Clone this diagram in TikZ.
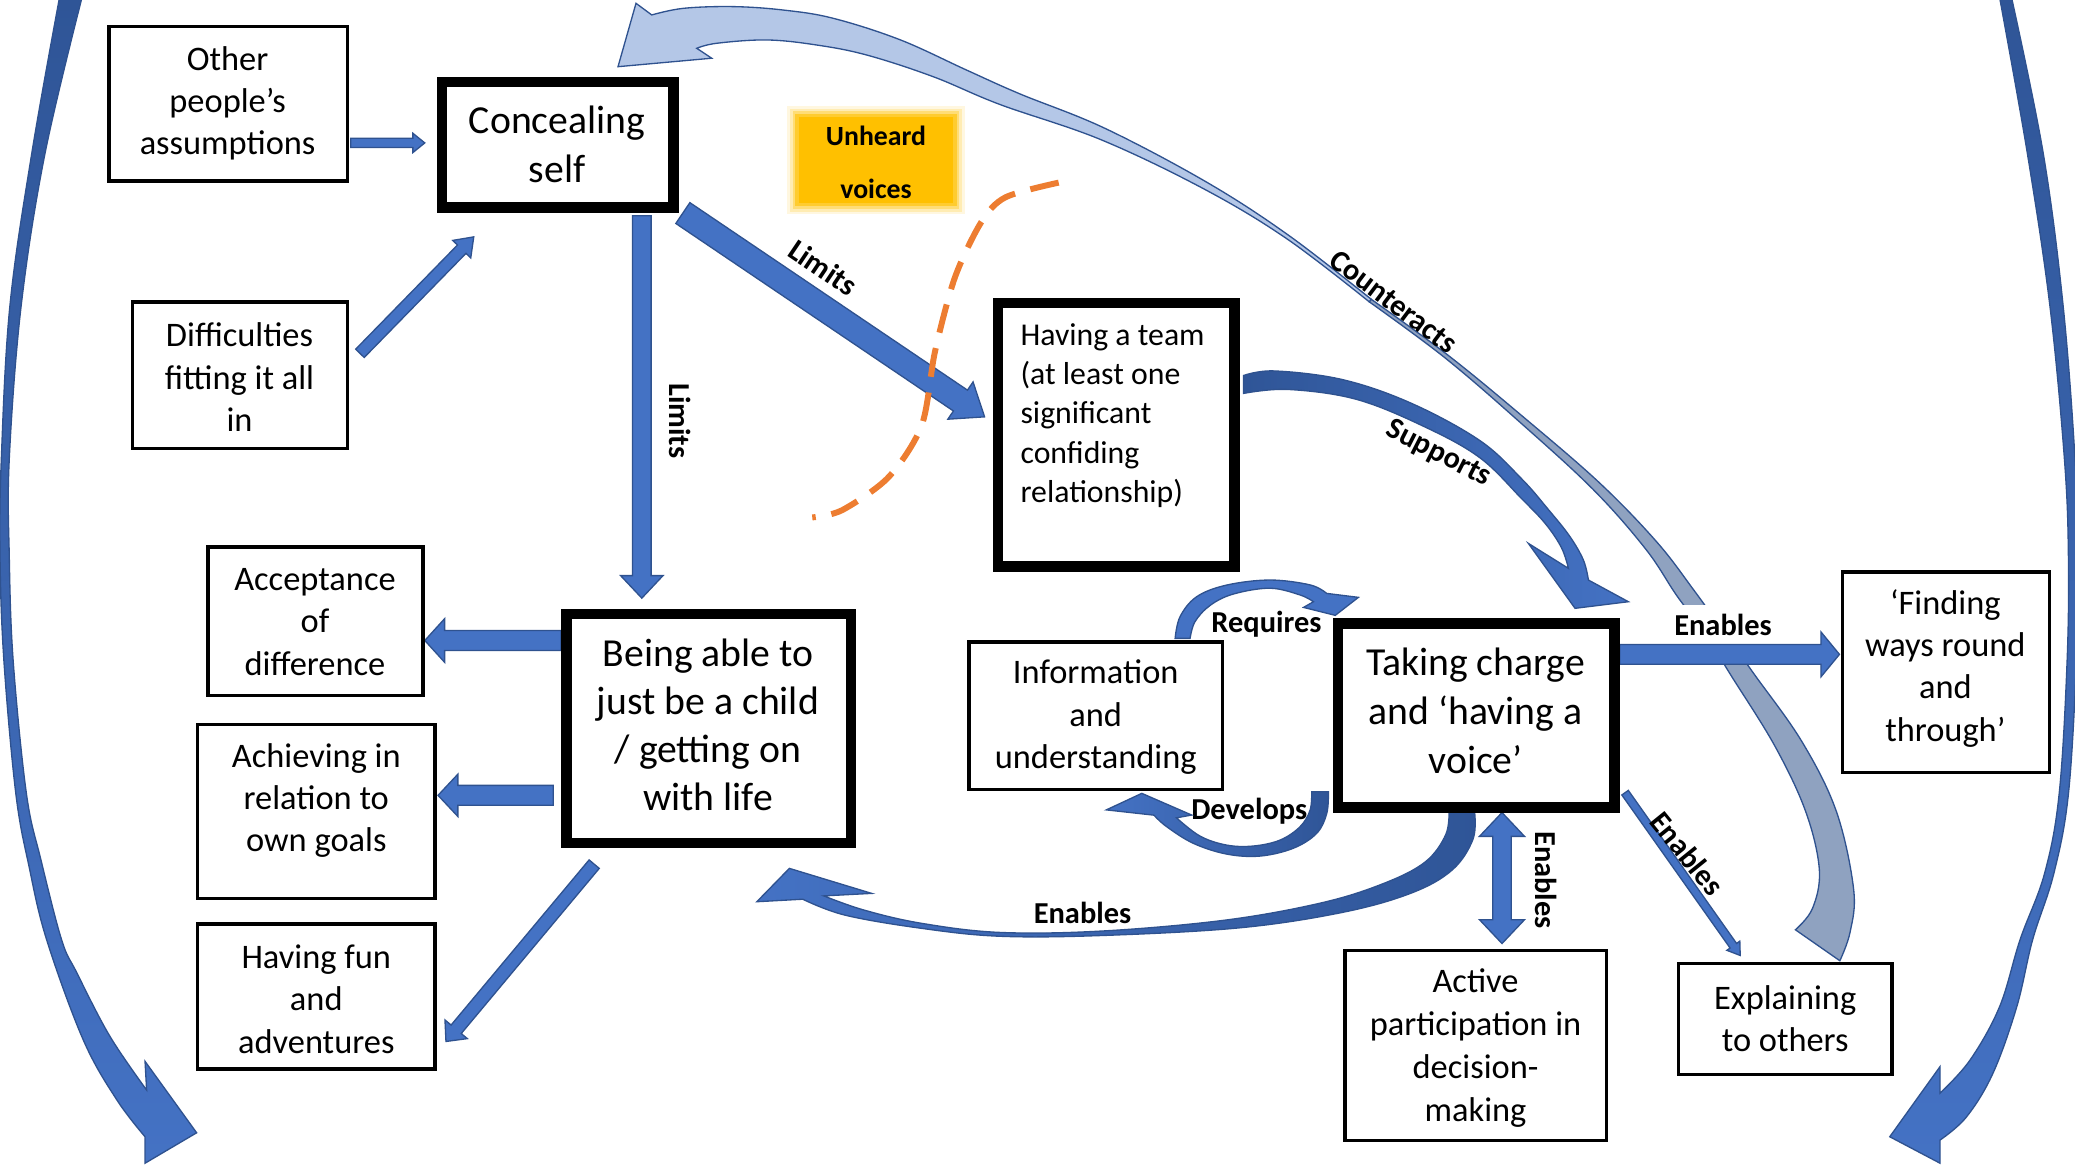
\documentclass[tikz,border=0pt]{standalone}
\usepackage{fontspec}
\setmainfont{Carlito}
\usetikzlibrary{calc}
\definecolor{abl}{HTML}{4472C4}
\definecolor{aol}{HTML}{2F528F}
\definecolor{adk}{HTML}{2F5597}
\definecolor{lbl}{HTML}{B4C7E7}
\definecolor{gbl}{HTML}{8FA2C0}
\definecolor{org}{HTML}{ED7D31}
\definecolor{ylw}{HTML}{FFC000}
\newcommand{\blockarr}[5]{%
  \coordinate (tmpH) at ($(#2)!#5!(#1)$);
  \draw[barrow] ($(#1)!#3!90:(#2)$) -- ($(tmpH)!#3!90:(#2)$) -- ($(tmpH)!#4!90:(#2)$) -- (#2) -- ($(tmpH)!#4!-90:(#2)$) -- ($(tmpH)!#3!-90:(#2)$) -- ($(#1)!#3!-90:(#2)$) -- cycle;}
\begin{document}
\begin{tikzpicture}[x=1pt,y=-1pt,
  tbox/.style={draw=black,line width=2.5pt,fill=white,inner sep=0pt},
  kbox/.style={draw=black,line width=8pt,fill=white,inner sep=0pt},
  btxt/.style={align=center,inner sep=0pt,font=\fontsize{26}{32}\selectfont},
  ktxt/.style={align=center,inner sep=0pt,font=\fontsize{30}{36.5}\selectfont},
  lab/.style={inner sep=1pt,font=\fontsize{23}{27}\selectfont\bfseries},
  barrow/.style={fill=abl,draw=aol,line width=1pt,line join=miter},
  carrow/.style={draw=aol,line width=1pt,line join=miter},
  glow/.style={fill=ylw,inner sep=0pt},
]
\useasboundingbox (0,0) rectangle (1568,882);
\clip (0,0) rectangle (1568,882);

% ---------- big side arcs ----------
\draw[carrow,top color=adk,bottom color=abl]
  plot[smooth,tension=0.6] coordinates {(45,-2) (24,116) (7.5,231) (1,347) (0,420) (3,500) (12,600) (22,655) (35.3,710.3) (63,786) (88.2,831) (109.6,859)}
  -- (109.6,879) -- (148.6,856) -- (109.6,802) -- (110.8,823.7)
  -- plot[smooth,tension=0.6] coordinates {(110.8,823.7) (83,783) (58,735) (46.6,710.3) (31,650) (20,600) (10,500) (7,420) (7,347) (16,231) (34,116) (62,-2)}
  -- cycle;
\draw[carrow,top color=adk,bottom color=abl]
  plot[smooth,tension=0.6] coordinates {(1511,-2) (1532,116) (1549,231) (1560,347) (1563,420) (1562,500) (1556,600) (1545,660) (1526.5,710) (1511,760.7) (1488.7,801) (1466,826)}
  -- (1466,806) -- (1428,859) -- (1466,879) -- (1466,861.5)
  -- plot[smooth,tension=0.6] coordinates {(1466,861.5) (1486,844) (1506,811) (1524,760.7) (1536,710) (1552,660) (1563,600) (1569,500) (1570,420) (1568,347) (1559,231) (1544,116) (1520,-2)}
  -- cycle;

% ---------- Counteracts ribbon ----------
\draw[carrow,fill=gbl]
  plot[smooth,tension=0.6] coordinates {(1036.1,226.1) (1093.4,267.8) (1151,315) (1208.7,364.9) (1252,409.6) (1280,446) (1303,478) (1325.6,509.5) (1361.8,560.7) (1387.7,613.3) (1400.7,671.9) (1398.1,704.1) (1390.3,726)}
  -- (1356.7,702.6)
  -- plot[smooth,tension=0.6] coordinates {(1356.7,702.6) (1369.6,686.5) (1374.8,657.2) (1364.5,613.3) (1341.1,563.6) (1307.5,509.5) (1288,478) (1267,450) (1243.8,415.2) (1204.1,370.1) (1147.8,318.4) (1091.4,270) (1034.7,228.1)}
  -- cycle;
\draw[carrow,fill=lbl]
  plot[smooth,tension=0.6] coordinates {(1036.1,226.1) (974,178) (912.4,138) (835,97) (770.8,71) (730.5,53) (680,30) (629.5,13.8) (592,7.6) (554,5) (516.4,6.3) (492.5,11.3)}
  -- (480.6,2.5) -- (467,50.4) -- (537.8,44) -- (526.5,36.5)
  -- plot[smooth,tension=0.6] coordinates {(526.5,36.5) (541.6,32.7) (579.4,30.2) (617,34) (655,41.6) (705.3,58) (755.7,79) (831.8,105.5) (909.8,142.8) (972.5,180.5) (1034.7,228.1)}
  -- cycle;

% ---------- Supports ----------
\draw[carrow,left color=adk,right color=abl]
  plot[smooth,tension=0.6] coordinates {(939.6,283.8) (962.9,280.3) (1014.7,286.9) (1066.6,304.8) (1118.4,333) (1150,362) (1170,385) (1186,405) (1196.5,423.2) (1200.3,438.3)}
  -- (1230.5,454.7) -- (1190.2,459.7) -- (1154.9,410.6) -- (1185.2,429.5)
  -- plot[smooth,tension=0.6] coordinates {(1185.2,429.5) (1180,414) (1168,396) (1150,377) (1118.4,346) (1076.9,322.7) (1025.1,301.8) (973.3,294.3) (939.6,297.3)}
  -- cycle;

% ---------- bottom Enables curve ----------
\draw[carrow,left color=abl,right color=adk]
  plot[smooth,tension=0.6] coordinates {(1095,612.8) (1092.4,630.9) (1076.9,651.4) (1045.8,667.5) (999.2,682.1) (926.6,695.2) (833.4,703.5) (755.7,704.6) (696.3,697.7) (652.9,687.7) (622.5,677)}
  -- (658.7,675.1) -- (596.5,656.2) -- (571.9,681.4) -- (606.6,679.5)
  -- plot[smooth,tension=0.6] coordinates {(606.6,679.5) (638.4,691.5) (696.3,701.5) (755.7,707.5) (833.4,706.9) (937,701.1) (1014.7,689.4) (1066.6,674.8) (1097.6,657.2) (1113.2,633.8) (1114.2,612.8)}
  -- cycle;

% ---------- Requires loop ----------
\draw[carrow,fill=abl]
  plot[smooth,tension=0.6] coordinates {(888,482.4) (891.7,466) (904.3,450.9) (927,442.1) (959.7,438.3) (990,442) (1002.5,448.4)}
  -- (1026.5,451.4) -- (1009,465) -- (985,459) -- (992.5,454.7)
  -- plot[smooth,tension=0.6] coordinates {(992.5,454.7) (982.4,449.6) (959.7,444.5) (932,448.9) (914.4,457.5) (903,469.8) (899.3,482.4)}
  -- cycle;

% ---------- Develops loop ----------
\node[lab] (l-dev) at (944,613) {Develops};
\draw[carrow,left color=abl,right color=adk]
  plot[smooth,tension=0.6] coordinates {(991.2,598.3) (990,612.1) (982.4,624.7) (967.3,634.8) (947.1,639.3) (927,638.6) (906.8,631.8) (889,618)}
  -- (900.5,615.9) -- (862.8,599.5) -- (836,612) -- (872,616)
  -- plot[smooth,tension=0.6] coordinates {(872,616) (881.6,624.7) (901.8,637.3) (927,645.4) (952.2,646.9) (977.3,641) (995,629.7) (1002.6,614.6) (1003.8,598.3)}
  -- cycle;

% ---------- Enables label that masks the ribbon ----------
\node[lab,fill=white,inner xsep=3pt,inner ysep=7pt] (l-en1) at (1302,472) {Enables};

% ---------- straight block arrows ----------
\coordinate (a1) at (265,108);   \coordinate (a2) at (321,108);
\coordinate (b1) at (272,267);   \coordinate (b2) at (358,179);
\coordinate (c1) at (485,163);   \coordinate (c2) at (485,452);
\coordinate (d1) at (516,161);   \coordinate (d2) at (744,315);
\coordinate (e1) at (424,484);   \coordinate (e2) at (321,484);
\coordinate (f1) at (418,601);   \coordinate (f2) at (331,601);
\coordinate (g1) at (449,653);   \coordinate (g2) at (337,787);
\coordinate (h1) at (1224,494.5);\coordinate (h2) at (1390,494.5);
\coordinate (i1) at (1228,599);  \coordinate (i2) at (1315,722);
\coordinate (j1) at (1135,614);  \coordinate (j2) at (1135,713);
\blockarr{a1}{a2}{3.5pt}{7.3pt}{9pt}
\blockarr{b1}{b2}{4.5pt}{9.5pt}{13pt}
\blockarr{c1}{c2}{7pt}{16pt}{17pt}
\blockarr{d1}{d2}{9.5pt}{17pt}{22pt}
\blockarr{e1}{e2}{7.5pt}{16.5pt}{15pt}
\blockarr{f1}{f2}{7.5pt}{16pt}{15pt}
\blockarr{g1}{g2}{5pt}{11pt}{12pt}
\blockarr{h1}{h2}{7.5pt}{17pt}{14pt}
\blockarr{i1}{i2}{3pt}{6pt}{9pt}
\draw[barrow] (j1) -- ($(j1)+(17,18)$) -- ($(j1)+(7,18)$) -- ($(j2)+(7,-18)$) -- ($(j2)+(17,-18)$) -- (j2)
  -- ($(j2)+(-17,-18)$) -- ($(j2)+(-7,-18)$) -- ($(j1)+(-7,18)$) -- ($(j1)+(-17,18)$) -- cycle;

% ---------- orange dashed arc ----------
\draw[org,line width=4.5pt,dash pattern=on 22pt off 12pt]
  plot[smooth] coordinates {(800,138) (760,149) (741.6,167.7) (721.6,209.6) (706.6,265.4) (696.5,321.4) (671.5,360.5) (636.4,385.5) (613.8,391)};

% ---------- Unheard voices (soft edged) ----------
\node[glow,opacity=0.12,minimum width=134pt,minimum height=82pt] (uv4) at (662,121) {};
\node[glow,opacity=0.2,minimum width=130pt,minimum height=78pt] (uv3) at (662,121) {};
\node[glow,opacity=0.35,minimum width=126pt,minimum height=74pt] (uv2) at (662,121) {};
\node[glow,opacity=0.6,minimum width=122pt,minimum height=70pt] (uv1) at (662,121) {};
\node[glow,minimum width=117pt,minimum height=65pt] (uv0) at (662,121) {};
\node[align=center,inner sep=0pt,font=\fontsize{21}{40}\selectfont\bfseries] (uv-t) at (662,123) {Unheard\\voices};

% ---------- boxes ----------
\node[tbox,minimum width=180.5pt,minimum height=116.5pt] (other) at (172.5,78.5) {};
\node[btxt] (other-t) at (172,78) {Other\\people’s\\assumptions};
\node[kbox,minimum width=175pt,minimum height=95pt] (conceal) at (421.5,109.5) {};
\node[ktxt] (conceal-t) at (421,109) {Concealing\\self};
\node[tbox,minimum width=162.5pt,minimum height=110.5pt] (diff) at (181.5,283.5) {};
\node[btxt] (diff-t) at (181,285) {Difficulties\\fitting it all\\in};
\node[kbox,minimum width=179pt,minimum height=199pt] (team) at (843.5,328.5) {};
\node[anchor=west,align=left,inner sep=0pt,font=\fontsize{24}{29.75}\selectfont] (team-t) at (771,314) {Having a team\\(at least one\\significant\\confiding\\relationship)};
\node[tbox,minimum width=162.5pt,minimum height=112.5pt] (accept) at (238.5,469.5) {};
\node[btxt] (accept-t) at (238,470) {Acceptance\\of\\difference};
\node[kbox,minimum width=215pt,minimum height=173pt] (being) at (535.5,550.5) {};
\node[ktxt,font=\fontsize{30}{36.3}\selectfont] (being-t) at (535,547.5) {Being able to\\just be a child\\/ getting on\\with life};
\node[tbox,minimum width=179.5pt,minimum height=131.5pt] (achieve) at (239,613) {};
\node[btxt] (achieve-t) at (239,605) {Achieving in\\relation to\\own goals};
\node[tbox,minimum width=179.5pt,minimum height=109.5pt] (fun) at (239,753) {};
\node[btxt] (fun-t) at (239,755) {Having fun\\and\\adventures};
\node[tbox,minimum width=191.5pt,minimum height=111.5pt] (info) at (828,541) {};
\node[btxt] (info-t) at (828,542) {Information\\and\\understanding};
\node[kbox,minimum width=209pt,minimum height=139pt] (taking) at (1115.5,540.5) {};
\node[ktxt,font=\fontsize{30}{37}\selectfont] (taking-t) at (1115,537) {Taking charge\\and ‘having a\\voice’};
\node[tbox,minimum width=156.5pt,minimum height=151.5pt] (finding) at (1470.5,508) {};
\node[btxt] (finding-t) at (1470,505) {‘Finding\\ways round\\and\\through’};
\node[tbox,minimum width=197.5pt,minimum height=143.5pt] (active) at (1115,790) {};
\node[btxt,font=\fontsize{26}{32.3}\selectfont] (active-t) at (1115,792) {Active\\participation in\\decision-\\making};
\node[tbox,minimum width=161.5pt,minimum height=83.5pt] (explain) at (1349,770) {};
\node[btxt] (explain-t) at (1349,770) {Explaining\\to others};

% ---------- connector labels ----------
\node[lab,rotate=-90] (l-lim1) at (514,318) {Limits};
\node[lab,rotate=-34] (l-lim2) at (622,202) {Limits};
\node[lab,rotate=-37] (l-cnt) at (1053,228) {Counteracts};
\node[lab,rotate=-27] (l-sup) at (1087,343) {Supports};
\node[lab,rotate=-90] (l-en2) at (1168,665) {Enables};
\node[lab,rotate=-51] (l-en3) at (1275,645) {Enables};
\node[lab] (l-en4) at (818,690) {Enables};
\node[lab] (l-req) at (957,472) {Requires};
\end{tikzpicture}
\end{document}
